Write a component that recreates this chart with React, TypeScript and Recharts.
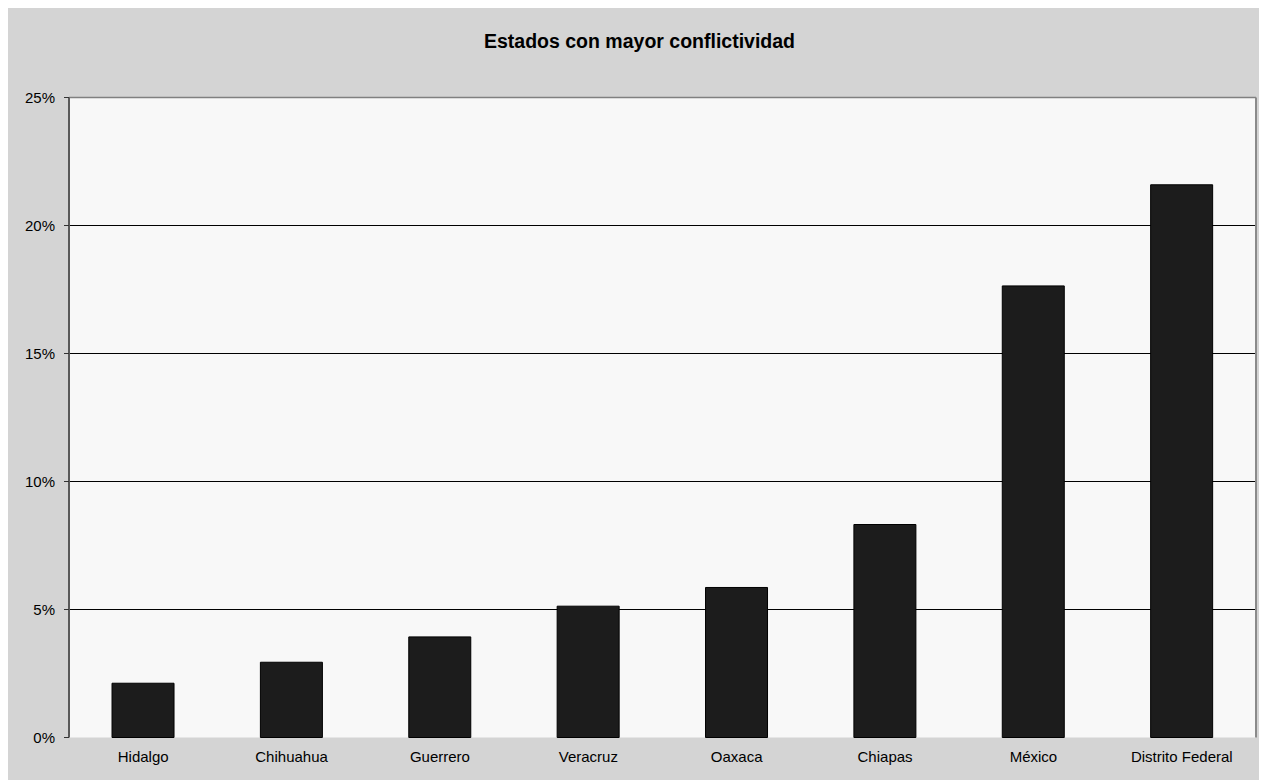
import React from 'react';
import {
  BarChart,
  Bar,
  XAxis,
  YAxis,
  CartesianGrid,
  ReferenceLine,
} from 'recharts';

const estados = [
  'Hidalgo',
  'Chihuahua',
  'Guerrero',
  'Veracruz',
  'Oaxaca',
  'Chiapas',
  'México',
  'Distrito Federal',
];

// porcentaje de conflictos por estado
const porcentajes = [2.12, 2.94, 3.93, 5.13, 5.86, 8.32, 17.64, 21.59];

const yTicks = [0, 5, 10, 15, 20, 25];

// divisiones entre categorías (eje numérico auxiliar)
const divisiones = [0, 1, 2, 3, 4, 5, 6, 7, 8];

const data = estados.map((estado, i) => ({ estado, valor: porcentajes[i] }));

const FONT = '"Liberation Sans", Arial, sans-serif';
const W = 1259;
const H = 772;

export default function App() {
  return (
    <div
      style={{
        width: W,
        height: H,
        background: '#d4d4d4',
        position: 'relative',
        fontFamily: FONT,
      }}
    >
      <div
        style={{
          position: 'absolute',
          top: 22,
          left: 2,
          width: W,
          textAlign: 'center',
          fontWeight: 'bold',
          fontSize: 19.5,
          color: '#000',
        }}
      >
        Estados con mayor conflictividad
      </div>
      <BarChart
        width={W}
        height={H}
        data={data}
        margin={{ top: 89.5, right: 0, bottom: 0, left: 0 }}
        barCategoryGap="29%"
      >
        <CartesianGrid
          vertical={false}
          horizontalValues={[5, 10, 15, 20]}
          stroke="#000"
          fill="#f8f8f8"
          fillOpacity={1}
          yAxisId="l"
        />
        <XAxis
          xAxisId="div"
          type="number"
          domain={[0, 8]}
          ticks={divisiones}
          height={0}
          tick={false}
          tickSize={5}
          axisLine={{ stroke: '#000', strokeWidth: 1.5 }}
          tickLine={{ stroke: '#333' }}
          allowDataOverflow
        />
        <XAxis
          dataKey="estado"
          height={42.5}
          interval={0}
          axisLine={false}
          tickLine={false}
          tickMargin={8}
          tick={{ fontSize: 15, fill: '#000', fontFamily: FONT }}
        />
        <YAxis
          yAxisId="l"
          domain={[0, 25]}
          ticks={yTicks}
          width={61}
          tickFormatter={(v) => `${v}%`}
          tickSize={5}
          tickMargin={9}
          axisLine={{ stroke: '#595959', strokeWidth: 2 }}
          tickLine={{ stroke: '#333' }}
          tick={{ fontSize: 15, fill: '#000', fontFamily: FONT }}
        />
        <YAxis
          yAxisId="r"
          orientation="right"
          domain={[0, 25]}
          width={11}
          tick={false}
          tickLine={false}
          axisLine={{ stroke: '#8a8a8a', strokeWidth: 2 }}
        />
        <ReferenceLine yAxisId="l" y={25} stroke="#808080" strokeWidth={1.5} />
        <Bar
          dataKey="valor"
          yAxisId="l"
          fill="#1c1c1c"
          stroke="#000"
          strokeWidth={1}
          isAnimationActive={false}
        />
      </BarChart>
    </div>
  );
}
